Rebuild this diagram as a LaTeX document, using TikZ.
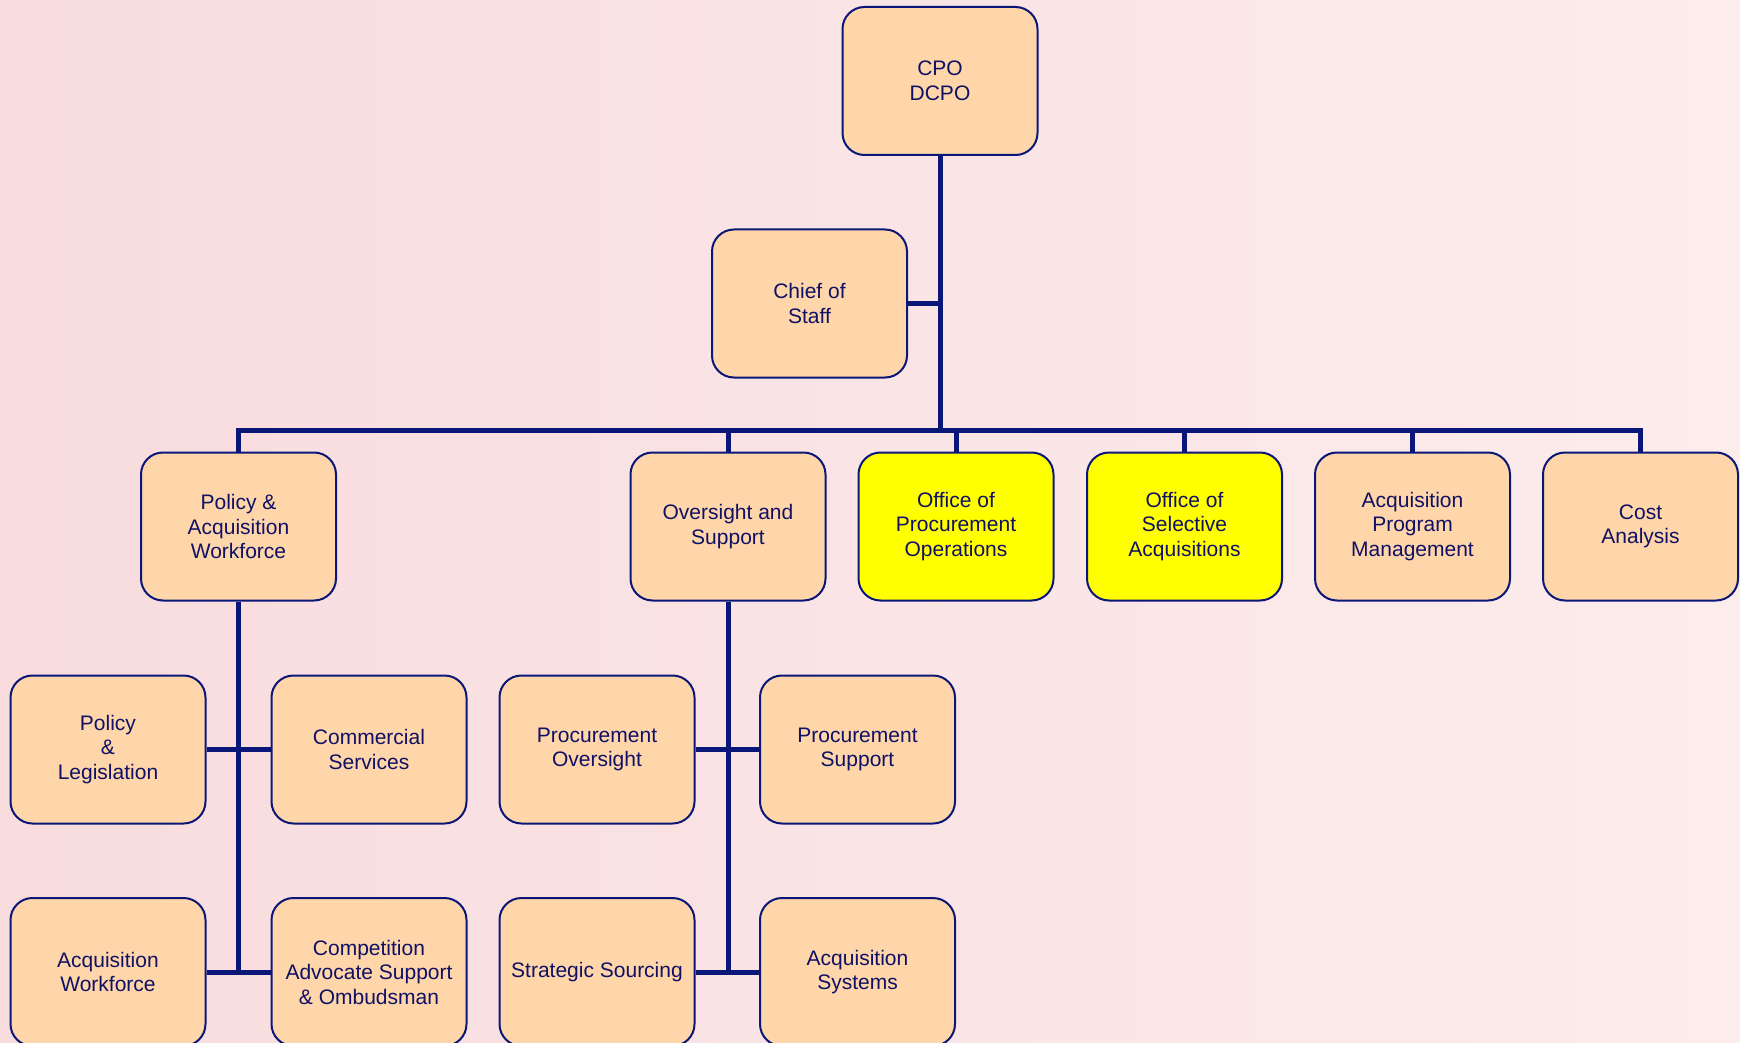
\documentclass[tikz,border=0pt]{standalone}
\usepackage{fontspec}
\setmainfont{Liberation Sans}
\definecolor{navy}{RGB}{10,22,120}
\definecolor{peach}{RGB}{254,214,170}
\definecolor{hiyellow}{RGB}{255,255,0}
\definecolor{bgleft}{RGB}{248,220,222}
\definecolor{bgright}{RGB}{252,236,236}
\definecolor{txt}{RGB}{16,16,100}
\tikzset{
  orgbox/.style={draw=navy, line width=2pt, fill=peach, rounded corners=22pt,
    minimum width=195pt, minimum height=148pt, align=center, text=txt,
    font=\fontsize{21}{24.5}\selectfont, inner sep=2pt},
  hibox/.style={orgbox, fill=hiyellow},
  link/.style={draw=navy, line width=5pt}
}
\begin{document}
\begin{tikzpicture}[x=1pt,y=-1pt]
\useasboundingbox (0,0) rectangle (1740,1043);
\shade[left color=bgleft, right color=bgright] (0,0) rectangle (1740,1043);
% nodes
\node[orgbox] (cpo) at (940,81) {CPO\\DCPO};
\node[orgbox] (cos) at (809.5,303.5) {Chief of\\Staff};
\node[orgbox] (paw) at (238.5,526.5) {Policy \&\\Acquisition\\Workforce};
\node[orgbox] (oas) at (728,526.5) {Oversight and\\Support};
\node[hibox]  (opo) at (956,526.5) {Office of\\Procurement\\Operations};
\node[hibox]  (osa) at (1184.5,526.5) {Office of\\Selective\\Acquisitions};
\node[orgbox] (apm) at (1412.5,526.5) {Acquisition\\Program\\Management};
\node[orgbox] (ca)  at (1640.5,526.5) {Cost\\Analysis};
\node[orgbox] (pl)  at (108,749.5) {Policy\\\&\\Legislation};
\node[orgbox] (cs)  at (369,749.5) {Commercial\\Services};
\node[orgbox] (po)  at (597,749.5) {Procurement\\Oversight};
\node[orgbox] (ps)  at (857.5,749.5) {Procurement\\Support};
\node[orgbox] (aw)  at (108,972) {Acquisition\\Workforce};
\node[orgbox] (cas) at (369,972) {Competition\\Advocate Support\\\& Ombudsman};
\node[orgbox] (ss)  at (597,972) {Strategic Sourcing};
\node[orgbox] (as)  at (857.5,972) {Acquisition\\Systems};
% bus coordinates
\coordinate (busM) at (940,430);
\coordinate (busL) at (238.5,430);
\coordinate (busR) at (1640.5,430);
% connectors
\draw[link] (cpo.south) -- (busM);
\draw[link] (cos.east) -- (cos.east -| cpo.south);
\draw[link,line cap=rect] (busL) -- (busR);
\foreach \n in {paw,oas,opo,osa,apm,ca}
  \draw[link] (\n.north |- busM) -- (\n.north);
\draw[link] (paw.south) -- (paw.south |- aw.east);
\draw[link] (oas.south) -- (oas.south |- ss.east);
\draw[link] (pl.east) -- (cs.west);
\draw[link] (aw.east) -- (cas.west);
\draw[link] (po.east) -- (ps.west);
\draw[link] (ss.east) -- (as.west);
\end{tikzpicture}
\end{document}
